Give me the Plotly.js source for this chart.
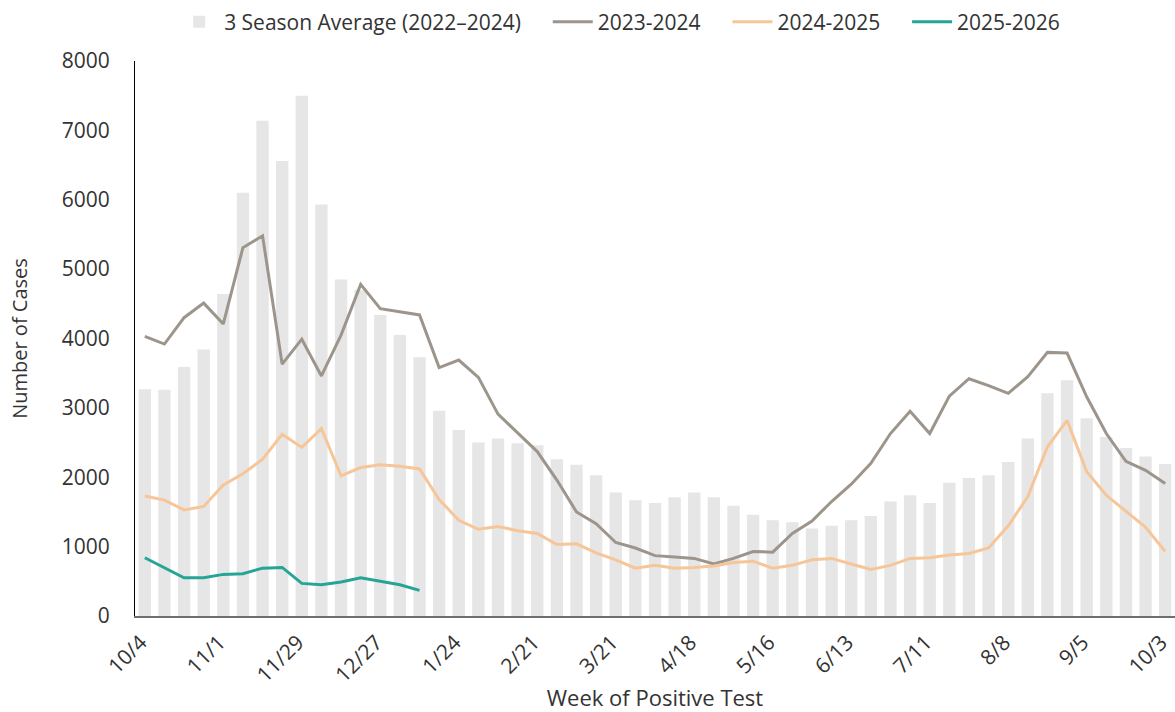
<!DOCTYPE html>
<html>
<head>
<meta charset="utf-8">
<script src="https://cdn.plot.ly/plotly-3.0.1.min.js"></script>
<style>html,body{margin:0;padding:0;background:#fff;}#chart{width:1175px;height:712px;}</style>
</head>
<body>
<div id="chart"></div>
<script>
const weeks = ["10/4","10/11","10/18","10/25","11/1","11/8","11/15","11/22","11/29","12/6","12/13","12/20","12/27","1/3","1/10","1/17","1/24","1/31","2/7","2/14","2/21","2/28","3/7","3/14","3/21","3/28","4/4","4/11","4/18","4/25","5/2","5/9","5/16","5/23","5/30","6/6","6/13","6/20","6/27","7/4","7/11","7/18","7/25","8/1","8/8","8/15","8/22","8/29","9/5","9/12","9/19","9/26","10/3"];
const tickLabels = ["10/4","11/1","11/29","12/27","1/24","2/21","3/21","4/18","5/16","6/13","7/11","8/8","9/5","10/3"];
const seriesNames = ["3 Season Average (2022\u20132024)","2023-2024","2024-2025","2025-2026"];

const avg3Season = [3270,3260,3590,3840,4640,6100,7140,6560,7500,5930,4850,4700,4340,4050,3730,2960,2680,2500,2560,2490,2460,2260,2180,2030,1780,1670,1630,1710,1780,1710,1590,1460,1380,1350,1260,1300,1380,1440,1650,1740,1630,1920,1990,2030,2220,2560,3210,3400,2850,2580,2420,2300,2190];
const s2023 = [4030,3920,4300,4510,4210,5310,5480,3630,3990,3460,4050,4780,4430,4390,4340,3580,3690,3440,2910,2640,2370,1960,1500,1330,1060,980,870,850,830,750,830,930,920,1190,1370,1650,1900,2200,2630,2950,2630,3170,3420,3320,3210,3450,3800,3790,3160,2630,2230,2100,1910];
const s2024 = [1730,1670,1530,1580,1890,2050,2260,2620,2430,2700,2020,2140,2180,2160,2120,1680,1380,1250,1290,1230,1190,1030,1040,910,810,690,730,690,700,720,770,790,690,730,810,830,750,670,730,830,840,880,900,980,1300,1720,2440,2820,2080,1740,1510,1280,930];
const s2025 = [840,700,550,550,600,610,690,700,470,450,490,550,500,450,370];

const fontFam = '"Open Sans", "Noto Sans", sans-serif';
const textColor = '#333333';
const pad = '\u00a0\u00a0\u00a0\u00a0';

const traces = [
  {type:'bar', name:seriesNames[0] + pad, x:weeks, y:avg3Season,
   marker:{color:'#e6e6e6'}, hoverinfo:'x+y'},
  {type:'scatter', mode:'lines', name:seriesNames[1] + pad, x:weeks, y:s2023,
   line:{color:'#9d958b', width:3}},
  {type:'scatter', mode:'lines', name:seriesNames[2] + pad, x:weeks, y:s2024,
   line:{color:'#f7c698', width:3}},
  {type:'scatter', mode:'lines', name:seriesNames[3], x:weeks.slice(0, s2025.length), y:s2025,
   line:{color:'#26a597', width:3}}
];

const layout = {
  width:1175, height:712,
  margin:{l:135, r:0, t:61, b:96, pad:0},
  paper_bgcolor:'#fff', plot_bgcolor:'#fff',
  font:{family:fontFam, size:21, color:textColor},
  bargap:0.37,
  showlegend:true,
  legend:{orientation:'h', x:0.466, xanchor:'center', y:1.07, yanchor:'middle',
          font:{family:fontFam, size:21, color:textColor}, itemwidth:40, traceorder:'normal'},
  xaxis:{type:'category', tickmode:'array', tickvals:tickLabels, ticktext:tickLabels,
         tickangle:-45, showgrid:false, zeroline:false, showline:true,
         linecolor:'#6f6f6f', linewidth:2, ticks:'', range:[-0.5, 52.5],
         ticklabelstandoff:4, ticklabelshift:-4,
         tickfont:{family:fontFam, size:21, color:textColor},
         title:{text:'Week of Positive Test', font:{family:fontFam, size:22, color:textColor}, standoff:20}},
  yaxis:{range:[0,8000], tickvals:[0,1000,2000,3000,4000,5000,6000,7000,8000],
         showgrid:false, zeroline:false, showline:true, linecolor:'#000', linewidth:1,
         ticks:'', ticklabelstandoff:20,
         tickfont:{family:fontFam, size:21, color:textColor},
         title:{text:'Number of Cases', font:{family:fontFam, size:20, color:textColor}, standoff:28}}
};

Plotly.newPlot('chart', traces, layout, {displayModeBar:false, staticPlot:true});
</script>
</body>
</html>
